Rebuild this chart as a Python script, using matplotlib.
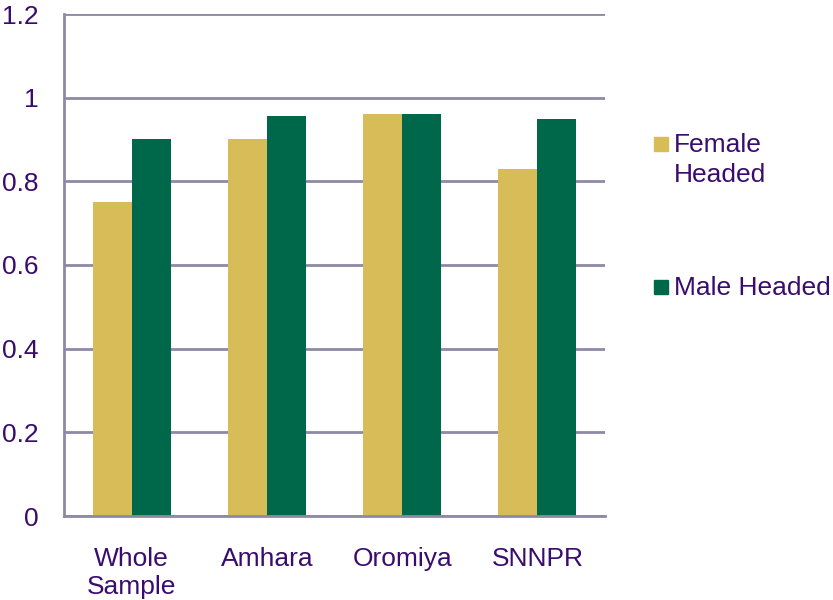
import matplotlib
matplotlib.use("Agg")
import matplotlib.pyplot as plt
import numpy as np
from matplotlib.patches import Rectangle

categories = ["Whole\nSample", "Amhara", "Oromiya", "SNNPR"]
female = [0.75, 0.90, 0.96, 0.83]
male = [0.90, 0.956, 0.96, 0.95]
series_labels = ["Female\nHeaded", "Male Headed"]
yticks = [0, 0.2, 0.4, 0.6, 0.8, 1, 1.2]
ytick_labels = ["0", "0.2", "0.4", "0.6", "0.8", "1", "1.2"]

c_female = "#D8BC57"
c_male = "#00684A"
c_text = "#3A0C6E"
c_grid = "#8E89A6"

plt.rcParams['font.family'] = ['Liberation Sans', 'DejaVu Sans']

W, H = 833, 600
fig = plt.figure(figsize=(W / 100, H / 100), dpi=100)
ax = fig.add_axes([64 / W, 84 / H, 541 / W, 502 / H])

x = np.arange(len(categories))
w = 0.288
ax.bar(x - w/2, female, w, color=c_female, zorder=3)
ax.bar(x + w/2, male, w, color=c_male, zorder=3)

ax.set_xlim(-0.5, len(categories) - 0.5)
ax.set_ylim(0, 1.2)
ax.set_yticks(yticks)
ax.set_yticklabels(ytick_labels)
ax.set_xticks(x)
ax.set_xticklabels(categories, linespacing=1.25)
ax.tick_params(axis='both', length=0, labelsize=19, labelcolor=c_text)
ax.tick_params(axis='y', pad=18)
ax.tick_params(axis='x', pad=22)
ax.yaxis.grid(True, color=c_grid, linewidth=2, zorder=0)
ax.set_axisbelow(True)
for s in ['top', 'right']:
    ax.spines[s].set_visible(False)
for s in ['left', 'bottom']:
    ax.spines[s].set_color(c_grid)
    ax.spines[s].set_linewidth(2)
ax.spines['bottom'].set_zorder(4)

# legend (manual, to keep the square beside the first line of a wrapped label)
legend_items = [(series_labels[0], c_female, 144), (series_labels[1], c_male, 287)]
for label, color, yc in legend_items:
    fig.add_artist(Rectangle((654 / W, 1 - (yc + 7) / H), 14 / W, 14 / H,
                             transform=fig.transFigure, color=color))
    fig.text(674 / W, 1 - (yc - 11) / H, label, fontsize=19, color=c_text,
             ha='left', va='top', linespacing=1.32)

fig.savefig("out.png", dpi=100)
